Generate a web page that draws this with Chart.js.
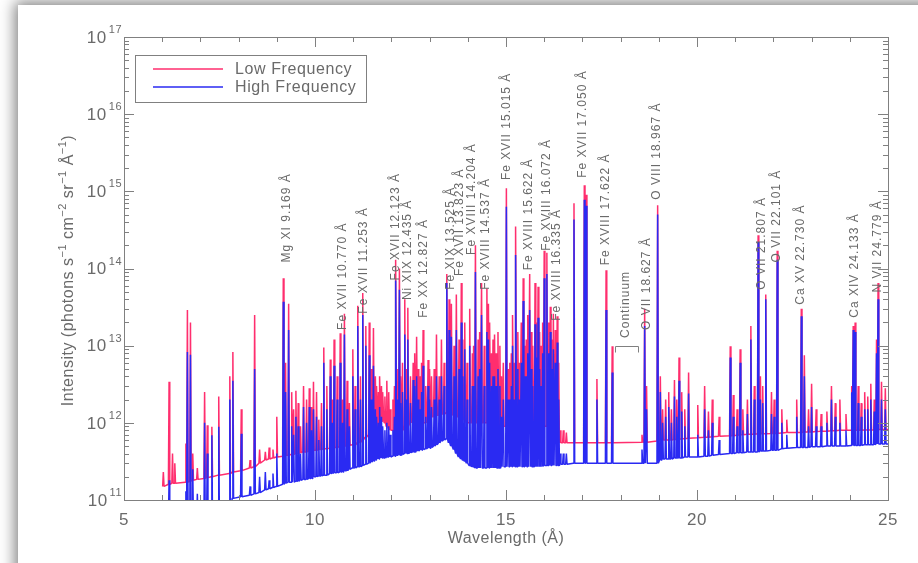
<!DOCTYPE html>
<html>
<head>
<meta charset="utf-8">
<title>Spectrum</title>
<script src="https://cdn.jsdelivr.net/npm/chart.js@4.4.1/dist/chart.umd.min.js"></script>
<style>
    html, body { margin: 0; padding: 0; background: #fff; overflow: hidden; }
    #card { position: absolute; left: 18px; top: 5px; width: 1000px; height: 700px; background: #fff;
            box-shadow: 0 0 14px 3px rgba(0, 0, 0, 0.5); }
    #spec { position: absolute; left: 0; top: 0; }
</style>
</head>
<body>
<div id="card"></div>
<canvas id="spec" width="918" height="563"></canvas>
<script>
// emission lines (Angstrom) with peak and continuum level under each line, per series
const lineWl = [
    6.03, 6.18, 6.27, 6.33, 6.62, 6.66, 6.74, 6.80, 6.92, 7.11,
    7.18, 7.30, 7.48, 7.77, 7.85, 8.07, 8.30, 8.42, 8.55, 8.70,
    8.80, 8.90, 9.00, 9.17, 9.23, 9.31, 9.39, 9.50, 9.62, 9.70,
    9.85, 9.96, 10.10, 10.23, 10.40, 10.50, 10.66, 10.77, 10.90, 10.99,
    11.12, 11.25, 11.33, 11.42, 11.53, 11.62, 11.70, 11.78, 11.88, 11.97,
    12.04, 12.12, 12.21, 12.29, 12.35, 12.43, 12.50, 12.57, 12.66, 12.75,
    12.83, 12.90, 12.96, 13.05, 13.12, 13.18, 13.25, 13.31, 13.38, 13.45,
    13.51, 13.57, 13.64, 13.70, 13.77, 13.83, 13.92, 13.98, 14.05, 14.12,
    14.20, 14.27, 14.36, 14.43, 14.50, 14.54, 14.62, 14.70, 14.79, 14.88,
    15.01, 15.10, 15.18, 15.26, 15.35, 15.45, 15.53, 15.62, 15.70, 15.76,
    15.84, 15.92, 16.00, 16.07, 16.16, 16.24, 16.34, 16.42, 16.50, 16.58,
    16.78, 17.05, 17.10, 17.38, 17.62, 17.78, 18.56, 18.63, 18.68, 18.97,
    19.04, 19.18, 19.26, 19.33, 19.41, 19.53, 19.60, 19.78, 20.02, 20.20,
    20.30, 20.40, 20.87, 20.95, 21.13, 21.20, 21.41, 21.60, 21.66, 21.80,
    21.95, 22.10, 22.22, 22.61, 22.73, 22.81, 23.00, 23.25, 23.52, 23.74,
    24.09, 24.14, 24.22, 24.39, 24.55, 24.74, 24.83, 24.93
];
const lowPeak = [
    2.3e11, 3.4e12, 4.0e11, 3.0e11, 5.4e11, 2.9e13, 2.0e13, 4.0e11, 2.6e11, 2.5e12,
    9.3e11, 8.9e11, 2.2e12, 4.0e12, 8.3e12, 1.5e12, 3.3e11, 2.5e13, 4.5e11, 4.2e11,
    4.8e11, 4.5e11, 1.2e12, 7.5e13, 6.0e12, 3.5e13, 2.5e12, 2.6e12, 9.0e11, 3.0e12,
    2.8e12, 3.4e12, 1.1e12, 9.5e12, 6.6e12, 1.2e13, 1.45e13, 2.6e13, 1.8e12, 9.0e12,
    3.3e13, 4.8e13, 1.8e13, 2.0e13, 1.7e13, 3.0e12, 4.0e12, 2.5e12, 3.5e12, 1.5e12,
    2.0e12, 1.3e14, 1.0e14, 6.0e12, 4.0e13, 3.1e13, 4.0e12, 6.0e12, 1.3e13, 4.0e12,
    1.6e13, 3.0e12, 6.5e12, 4.0e12, 5.0e12, 1.4e13, 4.0e12, 1.2e13, 6.0e12, 8.5e13,
    4.0e13, 3.5e13, 1.0e13, 4.6e13, 1.2e13, 6.5e13, 2.0e13, 6.0e12, 3.0e13, 8.0e12,
    2.0e14, 1.2e13, 6.5e13, 1.0e13, 5.5e13, 3.5e13, 8.0e12, 1.4e13, 1.5e13, 4.0e12,
    1.1e15, 6.0e12, 2.5e13, 3.5e14, 6.0e12, 7.5e13, 1.2e13, 8.5e13, 1.0e13, 6.5e13,
    5.8e13, 1.0e13, 1.7e14, 1.6e14, 3.2e13, 2.6e13, 2.4e13, 8.0e11, 8.0e11, 7.5e11,
    7.0e14, 1.2e15, 9.0e14, 3.7e12, 9.5e13, 9.8e12, 7.0e11, 3.0e13, 3.0e12, 6.6e14,
    4.0e12, 2.0e12, 2.5e12, 1.5e12, 3.6e12, 7.0e12, 2.5e12, 4.5e12, 1.7e12, 3.0e12,
    1.4e12, 2.0e12, 9.8e12, 2.3e12, 9.0e12, 1.5e12, 1.8e13, 2.7e14, 4.0e12, 4.6e13,
    2.5e12, 1.7e14, 1.5e12, 2.0e12, 3.0e13, 7.5e12, 3.2e12, 1.3e12, 3.0e12, 2.0e12,
    1.8e13, 2.0e13, 3.0e12, 2.5e12, 3.2e12, 6.5e13, 3.4e12, 2.8e12
];
const highPeak = [
    6.0e10, 1.8e11, 6.0e10, 6.0e10, 1.3e11, 8.3e12, 7.6e12, 2.5e11, 1.2e11, 1.0e12,
    4.0e11, 6.9e11, 8.9e11, 2.0e12, 3.5e12, 7.2e11, 1.5e11, 5.0e12, 2.0e11, 2.3e11,
    1.8e11, 2.2e11, 4.0e11, 3.7e13, 2.5e12, 1.6e13, 9.0e11, 1.2e12, 4.0e11, 1.6e12,
    1.6e12, 1.5e12, 6.0e11, 6.0e12, 4.0e12, 5.5e12, 6.0e12, 1.4e13, 9.0e11, 4.0e12,
    1.8e13, 2.5e13, 1.0e13, 7.5e12, 5.5e12, 1.2e12, 1.6e12, 9.0e11, 1.0e12, 7.0e11,
    8.0e11, 7.0e13, 5.3e13, 2.5e12, 1.4e13, 1.2e13, 1.8e12, 3.6e12, 4.0e12, 1.5e12,
    5.5e12, 1.2e12, 3.0e12, 1.6e12, 2.0e12, 4.0e12, 2.0e12, 4.0e12, 3.0e12, 6.5e13,
    1.6e13, 1.3e13, 4.0e12, 1.6e13, 5.0e12, 2.0e13, 9.0e12, 2.0e12, 1.0e13, 3.0e12,
    9.0e13, 4.0e12, 2.5e13, 3.0e12, 1.5e13, 1.2e13, 3.0e12, 4.0e12, 5.0e12, 1.2e12,
    6.3e14, 2.0e12, 1.0e13, 1.5e14, 2.0e12, 3.8e13, 4.0e12, 2.9e13, 3.0e12, 1.9e13,
    2.3e13, 3.0e12, 7.5e13, 8.5e13, 1.5e13, 9.0e12, 1.1e13, 4.0e11, 4.0e11, 4.0e11,
    4.3e14, 7.8e14, 6.5e14, 2.0e12, 2.9e13, 4.5e12, 4.5e11, 1.8e13, 1.5e12, 5.0e14,
    2.5e12, 1.2e12, 1.6e12, 1.0e12, 2.2e12, 3.5e12, 1.4e12, 2.4e12, 7.0e11, 1.5e12,
    8.0e11, 1.0e12, 7.0e12, 1.2e12, 6.0e12, 8.0e11, 1.2e13, 2.2e14, 2.0e12, 4.0e13,
    1.3e12, 1.3e14, 1.0e12, 1.2e12, 2.4e13, 4.0e12, 1.6e12, 9.0e11, 2.0e12, 1.0e12,
    1.6e13, 1.5e13, 1.8e12, 1.5e12, 2.0e12, 4.0e13, 2.0e12, 1.5e12
];
const lowBase = [
    1.5e11, 1.6e11, 1.65e11, 1.65e11, 1.7e11, 1.7e11, 1.75e11, 1.8e11, 1.85e11, 1.9e11,
    1.95e11, 2.0e11, 2.1e11, 2.2e11, 2.3e11, 2.4e11, 2.6e11, 2.7e11, 3.0e11, 3.3e11,
    3.4e11, 3.5e11, 3.6e11, 3.7e11, 3.8e11, 3.8e11, 3.9e11, 4.0e11, 4.1e11, 4.2e11,
    4.3e11, 4.4e11, 4.5e11, 4.6e11, 4.7e11, 4.8e11, 4.9e11, 5.0e11, 5.1e11, 5.2e11,
    5.5e11, 6.0e11, 6.5e11, 7.0e11, 8.0e11, 9.0e11, 1.0e12, 1.1e12, 9.0e11, 8.0e11,
    8.0e11, 7.5e11, 7.5e11, 8.0e11, 9.0e11, 9.0e11, 1.0e12, 1.1e12, 1.2e12, 1.1e12,
    1.0e12, 1.0e12, 1.1e12, 1.2e12, 1.2e12, 1.25e12, 1.25e12, 1.3e12, 1.3e12, 1.35e12,
    1.3e12, 1.3e12, 1.25e12, 1.2e12, 1.2e12, 1.2e12, 1.1e12, 1.0e12, 1.0e12, 1.0e12,
    1.0e12, 1.0e12, 1.0e12, 1.0e12, 1.0e12, 1.0e12, 1.0e12, 9.0e11, 9.0e11, 9.0e11,
    9.0e11, 9.0e11, 9.0e11, 9.0e11, 9.0e11, 9.0e11, 9.0e11, 9.0e11, 9.0e11, 9.0e11,
    9.0e11, 9.0e11, 9.0e11, 9.0e11, 8.0e11, 7.0e11, 6.0e11, 5.5e11, 5.5e11, 5.5e11,
    5.5e11, 5.5e11, 5.5e11, 5.5e11, 5.5e11, 5.5e11, 5.6e11, 5.6e11, 5.6e11, 5.8e11,
    5.9e11, 6.0e11, 6.0e11, 6.0e11, 6.1e11, 6.1e11, 6.2e11, 6.3e11, 6.4e11, 6.5e11,
    6.5e11, 6.6e11, 6.8e11, 6.8e11, 7.0e11, 7.0e11, 7.1e11, 7.2e11, 7.2e11, 7.2e11,
    7.3e11, 7.3e11, 7.4e11, 7.5e11, 7.5e11, 7.6e11, 7.6e11, 7.8e11, 7.9e11, 8.0e11,
    8.0e11, 8.0e11, 8.0e11, 8.1e11, 8.1e11, 8.2e11, 8.2e11, 8.2e11
];
const highBase = [
    5.0e10, 5.0e10, 5.0e10, 5.0e10, 5.0e10, 5.0e10, 5.0e10, 5.0e10, 5.0e10, 5.0e10,
    5.0e10, 5.0e10, 5.0e10, 5.0e10, 1.05e11, 1.1e11, 1.15e11, 1.2e11, 1.25e11, 1.35e11,
    1.4e11, 1.45e11, 1.5e11, 1.6e11, 1.65e11, 1.7e11, 1.7e11, 1.75e11, 1.8e11, 1.85e11,
    1.9e11, 2.0e11, 2.05e11, 2.1e11, 2.2e11, 2.25e11, 2.3e11, 2.4e11, 2.5e11, 2.6e11,
    2.7e11, 2.8e11, 2.9e11, 3.0e11, 3.2e11, 3.4e11, 3.5e11, 3.5e11, 3.6e11, 3.6e11,
    3.7e11, 3.8e11, 3.8e11, 3.9e11, 4.0e11, 4.0e11, 4.1e11, 4.2e11, 4.3e11, 4.4e11,
    4.5e11, 4.6e11, 4.7e11, 4.8e11, 5.0e11, 5.2e11, 5.5e11, 5.8e11, 6.0e11, 6.2e11,
    5.5e11, 5.0e11, 4.5e11, 4.0e11, 3.6e11, 3.4e11, 3.2e11, 3.0e11, 2.8e11, 2.7e11,
    2.6e11, 2.6e11, 2.6e11, 2.6e11, 2.6e11, 2.6e11, 2.6e11, 2.6e11, 2.6e11, 2.7e11,
    2.7e11, 2.7e11, 2.7e11, 2.7e11, 2.7e11, 2.7e11, 2.7e11, 2.7e11, 2.7e11, 2.7e11,
    2.7e11, 2.7e11, 2.8e11, 2.8e11, 2.8e11, 2.8e11, 2.8e11, 2.9e11, 2.9e11, 2.9e11,
    3.0e11, 3.0e11, 3.0e11, 3.0e11, 3.0e11, 3.0e11, 3.0e11, 3.0e11, 3.0e11, 3.0e11,
    3.3e11, 3.4e11, 3.4e11, 3.4e11, 3.5e11, 3.5e11, 3.5e11, 3.6e11, 3.6e11, 3.7e11,
    3.7e11, 3.8e11, 4.0e11, 4.0e11, 4.1e11, 4.1e11, 4.2e11, 4.2e11, 4.3e11, 4.3e11,
    4.4e11, 4.4e11, 4.6e11, 4.8e11, 4.8e11, 4.8e11, 4.9e11, 4.9e11, 5.0e11, 5.0e11,
    5.1e11, 5.1e11, 5.1e11, 5.2e11, 5.2e11, 5.3e11, 5.3e11, 5.3e11
];

// weaker blended lines between the identified ones
const blendWl = [
    9.44, 9.56, 9.78, 9.91, 10.04, 10.17, 10.31, 10.45, 10.58, 10.72,
    10.84, 11.05, 11.19, 11.47, 11.58, 11.66, 11.74, 11.83, 11.93, 12.08,
    12.17, 12.25, 12.39, 12.61, 12.70, 12.79, 13.00, 13.87, 14.16, 14.31,
    14.58, 14.66, 14.74, 14.84, 14.93, 15.06, 15.14, 15.22, 15.31, 15.40,
    15.49, 15.57, 15.66, 15.80, 15.88, 15.96, 16.12, 16.20, 16.29, 16.38,
    19.10, 19.47, 19.68, 20.58, 21.05, 21.32, 21.50, 21.72, 22.02, 22.35,
    22.92, 23.12, 23.40, 23.62, 23.90, 24.05, 24.30, 24.47, 24.64, 24.70
];
const blendLow = [
    1.5e12, 1.8e12, 2.0e12, 1.6e12, 2.5e12, 1.8e12, 3.0e12, 2.0e12, 4.0e12, 2.0e12,
    3.5e12, 3.0e12, 4.0e12, 5.0e12, 4.0e12, 2.5e12, 3.0e12, 2.2e12, 2.5e12, 3.0e12,
    5.0e12, 4.0e12, 5.0e12, 8.0e12, 5.0e12, 6.0e12, 5.0e12, 1.2e13, 1.0e13, 1.5e13,
    2.0e13, 1.2e13, 8.0e12, 1.0e13, 6.0e12, 5.0e12, 8.0e12, 6.0e12, 1.5e13, 2.0e13,
    1.0e13, 2.5e13, 1.5e13, 2.0e13, 1.5e13, 2.0e13, 2.0e13, 1.2e13, 1.6e13, 6.0e12,
    1.5e12, 2.0e12, 1.5e12, 1.2e12, 1.5e12, 2.0e12, 3.0e12, 3.0e12, 2.0e12, 1.1e12,
    1.5e12, 1.5e12, 1.4e12, 1.8e12, 1.3e12, 3.0e12, 1.8e12, 2.2e12, 2.0e12, 1.2e13
];
const blendHigh = [
    7.0e11, 9.0e11, 1.0e12, 8.0e11, 1.2e12, 9.0e11, 1.5e12, 1.0e12, 2.0e12, 1.0e12,
    1.5e12, 1.5e12, 2.0e12, 2.0e12, 1.5e12, 1.0e12, 1.2e12, 8.0e11, 9.0e11, 1.2e12,
    2.0e12, 1.8e12, 2.0e12, 3.0e12, 2.0e12, 2.5e12, 2.0e12, 4.0e12, 3.0e12, 5.0e12,
    6.0e12, 4.0e12, 3.0e12, 3.0e12, 2.0e12, 2.0e12, 3.0e12, 2.0e12, 5.0e12, 6.0e12,
    4.0e12, 8.0e12, 5.0e12, 7.0e12, 5.0e12, 8.0e12, 8.0e12, 5.0e12, 6.0e12, 2.0e12,
    1.0e12, 1.2e12, 9.0e11, 6.0e11, 9.0e11, 1.3e12, 2.0e12, 1.8e12, 1.2e12, 7.0e11,
    9.0e11, 9.0e11, 1.0e12, 1.2e12, 8.0e11, 2.5e12, 1.2e12, 1.5e12, 1.4e12, 8.0e12
];
const blendLowBase = [
    3.9e11, 4.0e11, 4.2e11, 4.3e11, 4.4e11, 4.5e11, 4.6e11, 4.7e11, 4.8e11, 4.9e11,
    5.0e11, 5.2e11, 5.6e11, 7.5e11, 8.5e11, 9.5e11, 1.05e12, 1.0e12, 8.5e11, 7.8e11,
    7.5e11, 7.8e11, 9.0e11, 1.15e12, 1.15e12, 1.05e12, 1.15e12, 1.15e12, 1.0e12, 1.0e12,
    1.0e12, 9.5e11, 9.0e11, 9.0e11, 9.0e11, 9.0e11, 9.0e11, 9.0e11, 9.0e11, 9.0e11,
    9.0e11, 9.0e11, 9.0e11, 9.0e11, 9.0e11, 9.0e11, 8.5e11, 7.5e11, 6.5e11, 5.8e11,
    6.0e11, 6.1e11, 6.2e11, 6.7e11, 6.9e11, 7.1e11, 7.1e11, 7.2e11, 7.3e11, 7.5e11,
    7.6e11, 7.7e11, 7.8e11, 7.9e11, 8.0e11, 8.0e11, 8.0e11, 8.1e11, 8.1e11, 8.2e11
];
const blendHighBase = [
    1.7e11, 1.75e11, 1.85e11, 1.9e11, 2.0e11, 2.05e11, 2.1e11, 2.2e11, 2.25e11, 2.3e11,
    2.4e11, 2.6e11, 2.7e11, 3.1e11, 3.3e11, 3.4e11, 3.5e11, 3.5e11, 3.6e11, 3.7e11,
    3.8e11, 3.8e11, 4.0e11, 4.2e11, 4.3e11, 4.4e11, 4.7e11, 3.3e11, 2.65e11, 2.6e11,
    2.6e11, 2.6e11, 2.6e11, 2.6e11, 2.7e11, 2.7e11, 2.7e11, 2.7e11, 2.7e11, 2.7e11,
    2.7e11, 2.7e11, 2.7e11, 2.7e11, 2.7e11, 2.75e11, 2.8e11, 2.8e11, 2.8e11, 2.8e11,
    3.4e11, 3.5e11, 3.6e11, 3.9e11, 4.1e11, 4.2e11, 4.2e11, 4.3e11, 4.4e11, 4.7e11,
    4.8e11, 4.9e11, 5.0e11, 5.0e11, 5.0e11, 5.1e11, 5.1e11, 5.2e11, 5.2e11, 5.3e11
];
const SPEC_END = 25.0;

const seriesNames = ['Low Frequency', 'High Frequency'];
const seriesColors = ['#ff2e6e', '#2a2af2'];

// axis ticks
const xTickLabels = [5, 10, 15, 20, 25];
const yDecades = [11, 12, 13, 14, 15, 16, 17];

// line identifications: text, wavelength of the column, intensity at the bottom of the text
const lineLabels = [
    { text: 'Mg XI 9.169 Å', wl: 9.26, at: 1.2e14 },
    { text: 'Fe XVII 10.770 Å', wl: 10.74, at: 1.6e13 },
    { text: 'Fe XVII 11.253 Å', wl: 11.27, at: 2.6e13 },
    { text: 'Fe XVII 12.123 Å', wl: 12.13, at: 7.0e13 },
    { text: 'Ni XIX 12.435 Å', wl: 12.44, at: 3.9e13 },
    { text: 'Fe XX 12.827 Å', wl: 12.86, at: 2.3e13 },
    { text: 'Fe XIX 13.525 Å', wl: 13.56, at: 5.3e13 },
    { text: 'Fe XVII 13.823 Å', wl: 13.80, at: 8.0e13 },
    { text: 'Fe XVIII 14.204 Å', wl: 14.11, at: 1.5e14 },
    { text: 'Fe XVIII 14.537 Å', wl: 14.48, at: 5.3e13 },
    { text: 'Fe XVII 15.015 Å', wl: 15.03, at: 1.4e15 },
    { text: 'Fe XVIII 15.622 Å', wl: 15.60, at: 9.5e13 },
    { text: 'Fe XVIII 16.072 Å', wl: 16.07, at: 1.7e14 },
    { text: 'Fe XVIII 16.335 Å', wl: 16.33, at: 2.1e13 },
    { text: 'Fe XVII 17.050 Å', wl: 17.01, at: 1.5e15 },
    { text: 'Fe XVIII 17.622 Å', wl: 17.61, at: 1.1e14 },
    { text: 'Continuum', wl: 18.13, at: 1.26e13 },
    { text: 'O VII 18.627 Å', wl: 18.68, at: 1.6e13 },
    { text: 'O VIII 18.967 Å', wl: 18.94, at: 7.8e14 },
    { text: 'O VII 21.807 Å', wl: 21.71, at: 5.3e13 },
    { text: 'O VII 22.101 Å', wl: 22.10, at: 1.2e14 },
    { text: 'Ca XV 22.730 Å', wl: 22.73, at: 3.4e13 },
    { text: 'Ca XIV 24.133 Å', wl: 24.14, at: 2.3e13 },
    { text: 'N VII 24.779 Å', wl: 24.74, at: 4.9e13 }
];
// bracket marking the continuum window
const continuumRange = [17.86, 18.46];
const continuumLevel = [1.0e13, 8.3e12];

const HALF_WIDTH = 0.018;
const TEXT = '#6a6a6a';
const FRAME = '#808080';
const FONT = '"Liberation Sans", Arial, sans-serif';

// every line becomes a narrow spike sitting on its continuum level
function spectrum(peaks, bases, blendPeaks, blendBases) {
    const rows = lineWl.map((wl, i) => [wl, peaks[i], bases[i]])
        .concat(blendWl.map((wl, i) => [wl, blendPeaks[i], blendBases[i]]))
        .sort((a, b) => a[0] - b[0]);
    const pts = [];
    rows.forEach(r => {
        pts.push({ x: r[0] - HALF_WIDTH, y: r[2] });
        pts.push({ x: r[0], y: r[1] });
        pts.push({ x: r[0] + HALF_WIDTH, y: r[2] });
    });
    pts.push({ x: SPEC_END, y: rows[rows.length - 1][2] });
    return pts;
}

function seg(ctx, x1, y1, x2, y2) {
    ctx.beginPath();
    ctx.moveTo(x1, y1);
    ctx.lineTo(x2, y2);
    ctx.stroke();
}

const decorations = {
    id: 'decorations',
    afterDatasetsDraw(chart) {
        const ctx = chart.ctx;
        const a = chart.chartArea;
        const xs = chart.scales.x;
        const ys = chart.scales.y;
        ctx.save();

        // frame and tick marks (inside, on all four sides)
        ctx.strokeStyle = FRAME;
        ctx.lineWidth = 1;
        ctx.strokeRect(a.left + 0.5, a.top + 0.5, a.right - a.left, a.bottom - a.top);
        for (let v = xs.min; v <= xs.max; v++) {
            const px = Math.round(xs.getPixelForValue(v)) + 0.5;
            const len = v % 5 === 0 ? 10 : 5;
            seg(ctx, px, a.bottom, px, a.bottom - len);
            seg(ctx, px, a.top, px, a.top + len);
        }
        yDecades.forEach((d, i) => {
            for (let m = 1; m <= 9; m++) {
                if (m > 1 && i === yDecades.length - 1) break;
                const py = Math.round(ys.getPixelForValue(m * Math.pow(10, d))) + 0.5;
                const len = m === 1 ? 10 : 5;
                seg(ctx, a.left, py, a.left + len, py);
                seg(ctx, a.right, py, a.right - len, py);
            }
        });

        ctx.fillStyle = TEXT;
        ctx.letterSpacing = '0.5px';

        // x tick labels
        ctx.font = '17px ' + FONT;
        ctx.textAlign = 'center';
        ctx.textBaseline = 'middle';
        xTickLabels.forEach(v => ctx.fillText(String(v), xs.getPixelForValue(v), 520));

        // y tick labels: 10 with raised exponent
        yDecades.forEach(d => {
            const py = ys.getPixelForValue(Math.pow(10, d));
            ctx.textAlign = 'right';
            ctx.font = '11px ' + FONT;
            ctx.fillText(String(d), a.left - 2, py - 7);
            const ew = ctx.measureText(String(d)).width;
            ctx.font = '17px ' + FONT;
            ctx.fillText('10', a.left - 4 - ew, py + 1);
        });

        // axis titles
        ctx.font = '16px ' + FONT;
        ctx.textAlign = 'center';
        ctx.fillText('Wavelength (Å)', (a.left + a.right) / 2, 539);

        const parts = [['Intensity (photons s', 0], ['−1', 1], [' cm', 0], ['−2', 1], [' sr', 0], ['−1', 1], [' Å', 0], ['−1', 1], [')', 0]];
        const big = '16px ' + FONT, small = '11px ' + FONT;
        let total = 0;
        parts.forEach(p => { ctx.font = p[1] ? small : big; total += ctx.measureText(p[0]).width; });
        ctx.save();
        ctx.translate(69, (a.top + a.bottom) / 2 + 2);
        ctx.rotate(-Math.PI / 2);
        ctx.textAlign = 'left';
        let cx = -total / 2;
        parts.forEach(p => {
            ctx.font = p[1] ? small : big;
            ctx.fillText(p[0], cx, p[1] ? -6 : 0);
            cx += ctx.measureText(p[0]).width;
        });
        ctx.restore();

        // line identifications
        ctx.font = '12px ' + FONT;
        ctx.letterSpacing = '1px';
        ctx.textAlign = 'left';
        lineLabels.forEach(l => {
            ctx.save();
            ctx.translate(Math.round(xs.getPixelForValue(l.wl)), ys.getPixelForValue(l.at));
            ctx.rotate(-Math.PI / 2);
            ctx.fillText(l.text, 0, 0);
            ctx.restore();
        });

        // continuum bracket
        const bx1 = Math.round(xs.getPixelForValue(continuumRange[0])) + 0.5;
        const bx2 = Math.round(xs.getPixelForValue(continuumRange[1])) + 0.5;
        const by1 = Math.round(ys.getPixelForValue(continuumLevel[0])) + 0.5;
        const by2 = Math.round(ys.getPixelForValue(continuumLevel[1])) + 0.5;
        ctx.beginPath();
        ctx.moveTo(bx1, by2);
        ctx.lineTo(bx1, by1);
        ctx.lineTo(bx2, by1);
        ctx.lineTo(bx2, by2);
        ctx.stroke();

        // legend box
        ctx.strokeRect(135.5, 55.5, 231, 47);
        ctx.lineWidth = 1.5;
        ctx.font = '16px ' + FONT;
        ctx.letterSpacing = '0.6px';
        seriesNames.forEach((name, i) => {
            const ly = 69 + i * 18;
            ctx.strokeStyle = seriesColors[i];
            seg(ctx, 153, ly, 223, ly);
            ctx.fillStyle = TEXT;
            ctx.fillText(name, 235, ly + 1);
        });

        ctx.restore();
    }
};

const hidden = {
    grid: { display: false },
    border: { display: false },
    ticks: { display: false }
};

new Chart(document.getElementById('spec'), {
    type: 'line',
    data: {
        datasets: [{
            label: seriesNames[0],
            data: spectrum(lowPeak, lowBase, blendLow, blendLowBase),
            borderColor: seriesColors[0],
            order: 2
        }, {
            label: seriesNames[1],
            data: spectrum(highPeak, highBase, blendHigh, blendHighBase),
            borderColor: seriesColors[1],
            order: 1
        }]
    },
    options: {
        responsive: false,
        animation: false,
        devicePixelRatio: 1,
        layout: { padding: { left: 0, top: 37, right: 30, bottom: 0 } },
        plugins: { legend: { display: false }, tooltip: { enabled: false } },
        elements: {
            point: { radius: 0 },
            line: { borderWidth: 1.5, borderJoinStyle: 'bevel', tension: 0 }
        },
        datasets: { line: { clip: 0 } },
        scales: {
            x: Object.assign({ type: 'linear', min: 5, max: 25,
                afterFit(s) { s.height = 63; } }, hidden),
            y: Object.assign({ type: 'logarithmic', min: 1e11, max: 1e17,
                afterFit(s) { s.width = 124; } }, hidden)
        }
    },
    plugins: [decorations]
});
</script>
</body>
</html>
